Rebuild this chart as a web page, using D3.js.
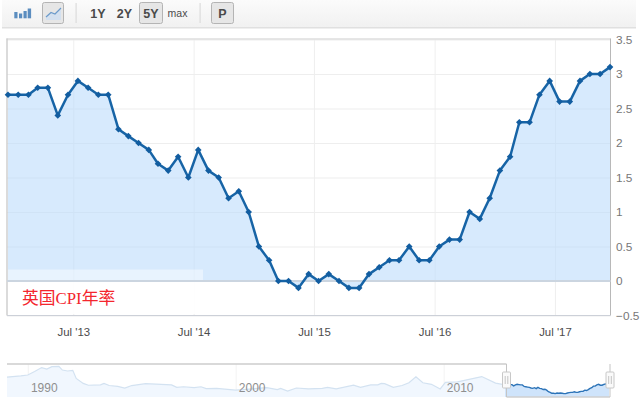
<!DOCTYPE html>
<html>
<head>
<meta charset="utf-8">
<script src="https://cdn.jsdelivr.net/npm/d3@7"></script>
<style>
html,body{margin:0;padding:0;background:#fff;overflow:hidden}
svg{display:block;font-family:"Liberation Sans",Arial,sans-serif}
.domain{display:none}
</style>
</head>
<body>
<svg id="c" width="640" height="400"></svg>
<script>
const cpiDates = ["2012-12-15","2013-01-15","2013-02-15","2013-03-15","2013-04-15","2013-05-15","2013-06-15","2013-07-15","2013-08-15","2013-09-15","2013-10-15","2013-11-15","2013-12-15",
"2014-01-15","2014-02-15","2014-03-15","2014-04-15","2014-05-15","2014-06-15","2014-07-15","2014-08-15","2014-09-15","2014-10-15","2014-11-15","2014-12-15",
"2015-01-15","2015-02-15","2015-03-15","2015-04-15","2015-05-15","2015-06-15","2015-07-15","2015-08-15","2015-09-15","2015-10-15","2015-11-15","2015-12-15",
"2016-01-15","2016-02-15","2016-03-15","2016-04-15","2016-05-15","2016-06-15","2016-07-15","2016-08-15","2016-09-15","2016-10-15","2016-11-15","2016-12-15",
"2017-01-15","2017-02-15","2017-03-15","2017-04-15","2017-05-15","2017-06-15","2017-07-15","2017-08-15","2017-09-15","2017-10-15","2017-11-15","2017-12-15"];
const cpiValues = [2.7,2.7,2.7,2.8,2.8,2.4,2.7,2.9,2.8,2.7,2.7,2.2,2.1,2.0,1.9,1.7,1.6,1.8,1.5,1.9,1.6,1.5,1.2,1.3,1.0,0.5,0.3,0,0,-0.1,0.1,0,0.1,0,-0.1,-0.1,0.1,0.2,0.3,0.3,0.5,0.3,0.3,0.5,0.6,0.6,1.0,0.9,1.2,1.6,1.8,2.3,2.3,2.7,2.9,2.6,2.6,2.9,3.0,3.0,3.1];
const yTickValues = [-0.5,0,0.5,1,1.5,2,2.5,3,3.5];
const xTickDates = ["2013-07-01","2014-07-01","2015-07-01","2016-07-01","2017-07-01"];
const xTickLabels = ["Jul '13","Jul '14","Jul '15","Jul '16","Jul '17"];
const navYears = [1989.0,1989.7,1990.0,1990.3,1990.66,1990.9,1991.2,1991.5,1991.7,1991.9,1992.2,1992.3,1992.7,1992.9,1993.5,1993.7,1993.9,1994.3,1994.7,1995.0,1995.7,1996.9,1997.2,1997.5,1998.0,1998.3,1998.6,1999.1,2000.0,2001.5,2002.0,2002.2,2002.5,2002.9,2003.5,2004.2,2004.4,2004.8,2005.7,2006.0,2006.5,2006.8,2007.0,2007.2,2007.6,2008.0,2008.3,2008.7,2009.0,2009.4,2009.8,2010.1,2010.7,2011.8,2012.5];
const navValues = [5.2,5.6,5.9,7.0,8.3,7.8,8.6,8.7,7.5,7.2,7.4,4.8,3.2,2.6,2.7,3.2,2.5,2.2,1.7,2.5,3.1,2.7,1.9,2.1,1.8,2.1,1.5,1.6,1.0,1.8,1.2,1.6,0.7,1.7,1.4,1.6,1.9,1.4,2.6,1.9,2.7,2.7,3.2,3.1,1.9,2.5,3.4,5.3,3.4,2.9,1.4,3.5,3.7,5.4,3.3];
const navTickYears = [1990,2000,2010];
const chartTitle = "英国CPI年率";
const rangeButtons = ["1Y","2Y","5Y","max"];

const svg = d3.select("#c");
const parse = d3.utcParse("%Y-%m-%d");
const dates = cpiDates.map(parse);
const pts = dates.map((d,i)=>({d,v:cpiValues[i]}));

/* ---------- toolbar ---------- */
const defs = svg.append("defs");
const g1 = defs.append("linearGradient").attr("id","tb").attr("x1",0).attr("x2",0).attr("y1",0).attr("y2",1);
g1.append("stop").attr("offset",0).attr("stop-color","#fbfbfb");
g1.append("stop").attr("offset",1).attr("stop-color","#f1f1f1");
const tb = svg.append("g");
tb.append("rect").attr("x",2).attr("y",0).attr("width",634).attr("height",27).attr("fill","url(#tb)");
tb.append("rect").attr("x",2).attr("y",27).attr("width",634).attr("height",1.5).attr("fill","#e0e0e0");
[[14.3,12,3.2,6.3],[19,13.5,3.2,4.8],[23.5,11,3.2,7.3],[27.7,8.5,3.4,9.8]].forEach(b=>
  tb.append("rect").attr("x",b[0]).attr("y",b[1]).attr("width",b[2]).attr("height",b[3]).attr("fill","#5b8dbf"));
function btn(x,w){tb.append("rect").attr("x",x).attr("y",2.5).attr("width",w).attr("height",21).attr("rx",2).attr("fill","#e6e6e6").attr("stroke","#b4b4b4");}
btn(42.5,21); btn(139.5,23); btn(211.5,22);
tb.append("path").attr("d","M46 17 L51 12.5 L55 14 L61 8 L61 20 L46 20Z").attr("fill","#d3e0ef");
tb.append("path").attr("d","M46 17 L51 12.5 L55 14 L61 8").attr("fill","none").attr("stroke","#6c9bcb").attr("stroke-width",1.2);
[76,200].forEach(x=>tb.append("rect").attr("x",x-.5).attr("y",3).attr("width",1.2).attr("height",20).attr("fill","#dcdcdc"));
const btnX = [98,124.5,151,177.5];
rangeButtons.forEach((t,i)=>tb.append("text").attr("x",btnX[i]).attr("y",i==3?17:17.5).attr("text-anchor","middle")
  .attr("font-size",i==3?10.5:12.5).attr("font-weight",i==3?"normal":"bold").attr("fill","#4a4a4a").text(t));
tb.append("text").attr("x",222.5).attr("y",17.5).attr("text-anchor","middle").attr("font-size",12.5).attr("font-weight","bold").attr("fill","#4a4a4a").text("P");

/* ---------- main chart ---------- */
const L=7,R=610.5,T=39.5,B=315.5;
const x = d3.scaleUtc().domain([dates[0],dates[dates.length-1]]).range([8,610]);
const y = d3.scaleLinear().domain([-0.5,3.5]).range([B,T]);
const xt = xTickDates.map(parse);

svg.append("g").attr("transform",`translate(0,${B})`)
  .call(d3.axisBottom(x).tickValues(xt).tickSize(-(B-T)).tickFormat(""))
  .selectAll("line").attr("stroke","#efefef");
svg.append("g").attr("transform",`translate(${L},0)`)
  .call(d3.axisRight(y).tickValues(yTickValues).tickSize(R-L).tickFormat(""))
  .selectAll("line").attr("stroke","#eeeeee").attr("stroke-width",1.2);

svg.append("path").datum(pts).attr("fill","#bcdcfb").attr("fill-opacity",.6)
  .attr("d",d3.area().x(d=>x(d.d)).y0(y(0)).y1(d=>y(d.v)));

/* frame */
svg.append("line").attr("x1",L-.5).attr("x2",R).attr("y1",T-.5).attr("y2",T-.5).attr("stroke","#dedede").attr("stroke-width",1.6);
svg.append("line").attr("x1",L).attr("x2",L).attr("y1",T-1).attr("y2",B).attr("stroke","#cccccc").attr("stroke-width",1.4);
svg.append("line").attr("x1",R).attr("x2",R).attr("y1",T-1).attr("y2",B).attr("stroke","#b8b8b8").attr("stroke-width",1);
svg.append("line").attr("x1",L).attr("x2",R).attr("y1",B).attr("y2",B).attr("stroke","#ccd0d8").attr("stroke-width",1.2);

/* watermark patch with the title */
svg.append("rect").attr("x",L+1).attr("y",269.5).attr("width",195).attr("height",12).attr("fill","#fff").attr("fill-opacity",.42);
svg.append("rect").attr("x",L+1).attr("y",282).attr("width",195).attr("height",32).attr("fill","#fff").attr("fill-opacity",.9);

svg.append("line").attr("x1",L).attr("x2",R).attr("y1",y(0)).attr("y2",y(0)).attr("stroke","#cbd5e0").attr("stroke-width",1.8);

svg.append("path").datum(pts).attr("fill","none").attr("stroke","#1764a6").attr("stroke-width",2.5).attr("stroke-linejoin","round")
  .attr("d",d3.line().x(d=>x(d.d)).y(d=>y(d.v)));
svg.append("g").selectAll("path").data(pts).join("path")
  .attr("transform",d=>`translate(${x(d.d)},${y(d.v)})`)
  .attr("d",d3.symbol(d3.symbolDiamond2 || d3.symbolDiamond,28))
  .attr("fill","#125da0");

svg.append("text").attr("x",22).attr("y",303.5).attr("font-size",16.8)
  .attr("font-family",'"Liberation Serif","Noto Sans CJK SC",serif').attr("fill","#f4262e").text(chartTitle);

/* axes text */
const xAxis = svg.append("g").attr("transform",`translate(0,${B})`)
  .call(d3.axisBottom(x).tickValues(xt).tickSize(0).tickPadding(12).tickFormat((d,i)=>xTickLabels[i]));
xAxis.selectAll("text").attr("font-size",11.4).attr("fill","#4c4c4c").attr("font-family","Liberation Sans");
const yAxis = svg.append("g").attr("transform",`translate(${R},0)`)
  .call(d3.axisRight(y).tickValues(yTickValues).tickSize(0).tickPadding(5.5).tickFormat(d3.format("~g")));
yAxis.selectAll("text").attr("font-size",11.8).attr("fill","#777").attr("font-family","Liberation Sans");

/* ---------- navigator ---------- */
const nT=364,nB=397;
const yr = v=>{const f=Math.floor(v);return new Date(Date.UTC(f,Math.round((v-f)*12),1));};
const navPts = navYears.map((a,i)=>({d:yr(a),v:navValues[i]})).concat(pts);
const nx = d3.scaleUtc().domain([yr(1989),yr(2018)]).range([7,610]);
const ny = d3.scaleLinear().domain([-1.2,9.45]).range([nB,nT]);
const navArea = d3.area().x(d=>nx(d.d)).y0(nB).y1(d=>ny(d.v));
const navLine = d3.line().x(d=>nx(d.d)).y(d=>ny(d.v));
const selX0=506.5, selX1=610;
const split = navPts.filter(d=>nx(d.d)<=selX0+1), sel = pts;

svg.append("g").attr("transform",`translate(0,${nB})`)
  .call(d3.axisBottom(nx).tickValues(navTickYears.map(a=>yr(a))).tickSize(-(nB-nT)).tickFormat(""))
  .selectAll("line").attr("stroke","#f3f3f3");
svg.append("path").datum(split).attr("fill","#f1f7fe").attr("d",navArea);
svg.append("path").datum(split).attr("fill","none").attr("stroke","#d3e2f1").attr("stroke-width",1.2).attr("d",navLine);
svg.append("path").datum(sel).attr("fill","#cfe4fb").attr("d",navArea);
svg.append("path").datum(sel).attr("fill","none").attr("stroke","#2d74b8").attr("stroke-width",1.4).attr("d",navLine);

svg.append("g").selectAll("text").data(navTickYears).join("text")
  .attr("x",d=>nx(yr(d))+16.5).attr("y",391.5).attr("text-anchor","middle").attr("font-size",12).attr("fill","#8f8f8f").text(d=>d);

svg.append("line").attr("x1",L).attr("x2",selX0).attr("y1",nT).attr("y2",nT).attr("stroke","#cccccc").attr("stroke-width",1.4);
svg.append("line").attr("x1",selX0).attr("x2",selX1).attr("y1",nB).attr("y2",nB).attr("stroke","#cfcfcf").attr("stroke-width",1.4);
[selX0,selX1].forEach(px=>{
  svg.append("line").attr("x1",px).attr("x2",px).attr("y1",nT).attr("y2",nB).attr("stroke","#c4c4c4");
  svg.append("rect").attr("x",px-4).attr("y",372).attr("width",8).attr("height",16).attr("rx",1).attr("fill","#fafafa").attr("stroke","#c8c8c8");
  [-1.3,1.3].forEach(o=>svg.append("line").attr("x1",px+o).attr("x2",px+o).attr("y1",376).attr("y2",384).attr("stroke","#c4c4c4"));
});
</script>
</body>
</html>
